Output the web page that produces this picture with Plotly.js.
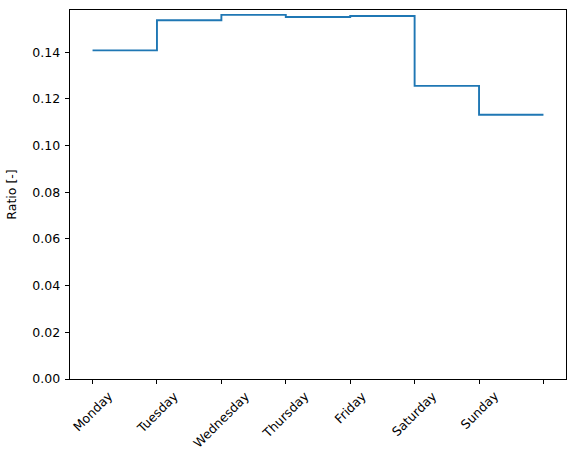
<!DOCTYPE html>
<html>
<head>
<script src="https://cdn.plot.ly/plotly-3.0.1.min.js"></script>
<style>html,body{margin:0;padding:0;background:#fff;}</style>
</head>
<body>
<div id="chart" style="width:576px;height:466px;"></div>
<script>
const days = ["Monday", "Tuesday", "Wednesday", "Thursday", "Friday", "Saturday", "Sunday"];
const ratios = [0.1408, 0.1537, 0.1560, 0.1551, 0.1555, 0.1256, 0.1132];
const tickLabels = days.concat([""]);

const xs = tickLabels.map((_, i) => i);
const ys = ratios.concat([ratios[ratios.length - 1]]);

const font = {family: "DejaVu Sans", size: 12.5, color: "#000"};

// Rotated x tick labels, centred on the tick like matplotlib (ha='center')
const labelAnnotations = tickLabels.filter(t => t !== "").map((t, i) => ({
  x: i, xref: "x", y: 0, yref: "paper",
  text: t, showarrow: false, textangle: -45,
  xanchor: "center", yanchor: "top", yshift: -8,
  font: font, borderpad: 0
}));

Plotly.newPlot("chart", [{
  x: xs, y: ys, type: "scatter", mode: "lines",
  line: {shape: "hv", color: "#1f77b4", width: 1.9},
  hoverinfo: "skip"
}], {
  width: 576, height: 466,
  margin: {l: 70, r: 10, t: 10, b: 87},
  paper_bgcolor: "#fff", plot_bgcolor: "#fff",
  font: font,
  showlegend: false,
  annotations: labelAnnotations,
  xaxis: {
    range: [-0.35, 7.35],
    tickmode: "array", tickvals: xs, ticktext: xs.map(() => ""),
    ticks: "outside", ticklen: 4.4, tickwidth: 1, tickcolor: "#000",
    showline: true, linecolor: "#000", linewidth: 1, mirror: true,
    showgrid: false, zeroline: false,
    tickfont: font
  },
  yaxis: {
    range: [0, 0.1581],
    tickmode: "array",
    tickvals: [0, 0.02, 0.04, 0.06, 0.08, 0.10, 0.12, 0.14],
    ticktext: ["0.00", "0.02", "0.04", "0.06", "0.08", "0.10", "0.12", "0.14"],
    ticks: "outside", ticklen: 4.4, tickwidth: 1, tickcolor: "#000",
    ticklabelstandoff: 2,
    showline: true, linecolor: "#000", linewidth: 1, mirror: true,
    showgrid: false, zeroline: false,
    tickfont: font,
    title: {text: "Ratio [-]", font: font, standoff: 12}
  }
}, {staticPlot: true});
</script>
</body>
</html>
